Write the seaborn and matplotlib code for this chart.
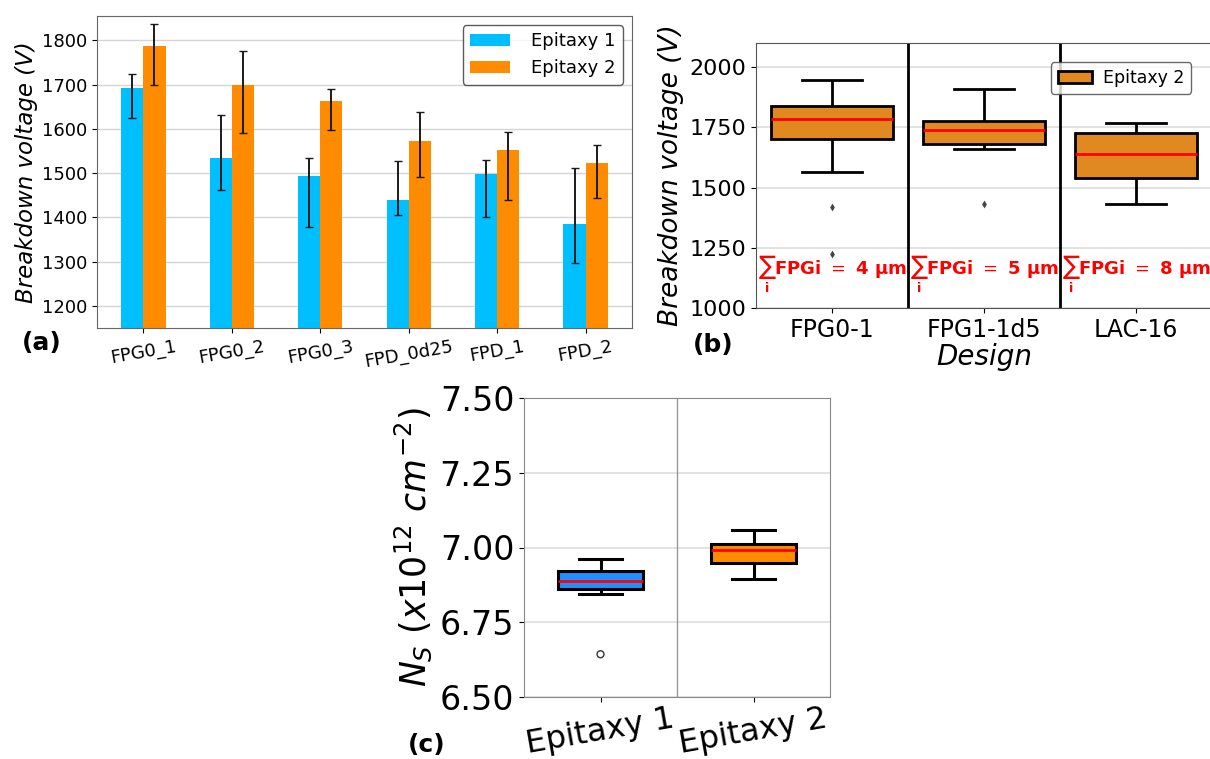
import numpy as np
import pandas as pd
import seaborn as sns
import matplotlib.pyplot as plt
from matplotlib.collections import PathCollection

# ---- panel (a) data: mean breakdown voltage with asymmetric error bars
designs_a = ['FPG0_1', 'FPG0_2', 'FPG0_3', 'FPD_0d25', 'FPD_1', 'FPD_2']
epi1_mean = [1693, 1535, 1493, 1440, 1497, 1386]
epi1_low = [1625, 1462, 1378, 1405, 1401, 1298]
epi1_high = [1725, 1632, 1535, 1527, 1529, 1512]
epi2_mean = [1787, 1700, 1662, 1573, 1553, 1522]
epi2_low = [1700, 1591, 1598, 1491, 1440, 1443]
epi2_high = [1838, 1776, 1689, 1638, 1594, 1563]

# ---- panel (b) data: box summaries (whislo, q1, median, q3, whishi)
designs_b = ['FPG0-1', 'FPG1-1d5', 'LAC-16']
box_b = {
    'FPG0-1': [1565, 1700, 1785, 1838, 1945],
    'FPG1-1d5': [1660, 1680, 1740, 1775, 1910],
    'LAC-16': [1430, 1540, 1640, 1725, 1770],
}
fliers_b_design = ['FPG0-1', 'FPG0-1', 'FPG1-1d5']
fliers_b_value = [1420, 1225, 1430]
fpg_sum = ['4', '5', '8']

# ---- panel (c) data: sheet carrier density box summaries
epis_c = ['Epitaxy 1', 'Epitaxy 2']
box_c = {
    'Epitaxy 1': [6.845, 6.862, 6.888, 6.922, 6.962],
    'Epitaxy 2': [6.893, 6.948, 6.993, 7.012, 7.057],
}
fliers_c_epi = ['Epitaxy 1']
fliers_c_value = [6.643]

W, H = 1210, 759
fig = plt.figure(figsize=(W / 100, H / 100), dpi=100)


def place(l, t, r, b):
    return fig.add_axes([l / W, 1 - b / H, (r - l) / W, (b - t) / H])


# =============== (a)
ax1 = place(97, 16, 632, 328)
dfa = pd.DataFrame({
    'design': designs_a * 2,
    'bv': epi1_mean + epi2_mean,
    'epi': ['Epitaxy 1'] * 6 + ['Epitaxy 2'] * 6,
})
sns.barplot(data=dfa, x='design', y='bv', hue='epi', ax=ax1, errorbar=None,
            palette={'Epitaxy 1': 'deepskyblue', 'Epitaxy 2': 'darkorange'},
            saturation=1, width=0.5, zorder=2)
lows = [epi1_low, epi2_low]
highs = [epi1_high, epi2_high]
means = [epi1_mean, epi2_mean]
bar_conts = list(ax1.containers)
for k, cont in enumerate(bar_conts):
    xs = [p.get_x() + p.get_width() / 2 for p in cont]
    m = np.array(means[k])
    yerr = [m - np.array(lows[k]), np.array(highs[k]) - m]
    ax1.errorbar(xs, m, yerr=yerr, fmt='none', ecolor='#1a1a1a',
                 elinewidth=1.4, capsize=3, zorder=3)
ax1.set_ylim(1150, 1855)
ax1.set_yticks(range(1200, 1801, 100))
ax1.yaxis.grid(True, color='#d4d4d4', lw=1)
ax1.set_axisbelow(True)
ax1.set_xlabel('')
ax1.set_ylabel('Breakdown voltage (V)', fontsize=16.5, fontstyle='italic',
               labelpad=3)
ax1.tick_params(axis='y', labelsize=13)
ax1.tick_params(axis='x', labelsize=13, labelrotation=10)
for s in ax1.spines.values():
    s.set_color('#666666')
ax1.legend(loc='upper right', fontsize=13, handlelength=2.2,
           handletextpad=1.2, labelspacing=0.5,
           edgecolor='#333333', fancybox=True)

# =============== (b)
ax2 = place(756, 43, 1212, 308)
rows = []
for d in designs_b:
    for v in box_b[d]:
        rows.append((d, v, 'Epitaxy 2'))
dfb = pd.DataFrame(rows, columns=['design', 'bv', 'epi'])
sns.boxplot(data=dfb, x='design', y='bv', hue='epi', order=designs_b, ax=ax2,
            palette={'Epitaxy 2': 'darkorange'}, saturation=0.75, width=0.8,
            whis=(0, 100), showfliers=False, dodge=False,
            linecolor='black', linewidth=2,
            medianprops={'color': 'red', 'linewidth': 2})
sns.stripplot(x=fliers_b_design, y=fliers_b_value, order=designs_b, ax=ax2,
              jitter=False, marker='d', color='#444444', size=4)
for xb in [0.5, 1.5]:
    ax2.axvline(xb, color='black', lw=2)
for i, s in enumerate(fpg_sum):
    ax2.text(i - 0.49, 1140, r'$\sum_{\mathbf{i}}$FPGi $=$ ' + s + ' μm',
             color='red', fontsize=13, fontweight='bold', va='center',
             ha='left')
ax2.set_xlim(-0.5, 2.5)
ax2.set_ylim(1000, 2100)
ax2.set_yticks([1000, 1250, 1500, 1750, 2000])
ax2.yaxis.grid(True, color='#dddddd', lw=1.2)
ax2.set_axisbelow(True)
ax2.set_ylabel('Breakdown voltage (V)', fontsize=19, fontstyle='italic')
ax2.set_xlabel('Design', fontsize=20, fontstyle='italic', labelpad=1)
ax2.tick_params(axis='y', labelsize=16)
ax2.tick_params(axis='x', labelsize=17)
for s in ax2.spines.values():
    s.set_color('#555555')
ax2.legend(loc='upper right', bbox_to_anchor=(0.954, 0.928),
           borderaxespad=0, fontsize=12.5, edgecolor='#444444',
           handlelength=2.0, handletextpad=0.6)

# =============== (c)
ax3 = place(524, 398, 830, 697)
rows = []
for e in epis_c:
    for v in box_c[e]:
        rows.append((e, v))
dfc = pd.DataFrame(rows, columns=['epi', 'ns'])
sns.boxplot(data=dfc, x='epi', y='ns', hue='epi', order=epis_c, ax=ax3,
            palette={'Epitaxy 1': 'dodgerblue', 'Epitaxy 2': 'darkorange'},
            saturation=1, width=0.55, whis=(0, 100), showfliers=False,
            linecolor='black', linewidth=2.2, legend=False,
            medianprops={'color': 'red', 'linewidth': 2})
sns.stripplot(x=fliers_c_epi, y=fliers_c_value, order=epis_c, ax=ax3,
              jitter=False, marker='o', size=5, color='#333333')
for c in ax3.collections:
    if isinstance(c, PathCollection):
        c.set_facecolors('none')
        c.set_edgecolors('#333333')
        c.set_linewidths(1)
ax3.axvline(0.5, color='#999999', lw=1)
ax3.set_xlim(-0.5, 1.5)
ax3.set_ylim(6.5, 7.5)
ax3.set_yticks([6.5, 6.75, 7.0, 7.25, 7.5])
ax3.set_yticklabels(['6.50', '6.75', '7.00', '7.25', '7.50'])
ax3.yaxis.grid(True, color='#dddddd', lw=1.2)
ax3.set_axisbelow(True)
ax3.set_xlabel('')
ax3.set_ylabel(r'$N_S\ (x10^{12}\ cm^{-2})$', fontsize=25, labelpad=4)
ax3.tick_params(axis='y', labelsize=24)
ax3.tick_params(axis='x', labelsize=23, labelrotation=10, pad=1)
for s in ax3.spines.values():
    s.set_color('#888888')

fig.text(22 / W, 1 - 343 / H, '(a)', fontsize=18, fontweight='bold', va='center')
fig.text(693 / W, 1 - 345 / H, '(b)', fontsize=18, fontweight='bold', va='center')
fig.text(408 / W, 1 - 745 / H, '(c)', fontsize=18, fontweight='bold', va='center')

fig.savefig('out.png', dpi=100)
